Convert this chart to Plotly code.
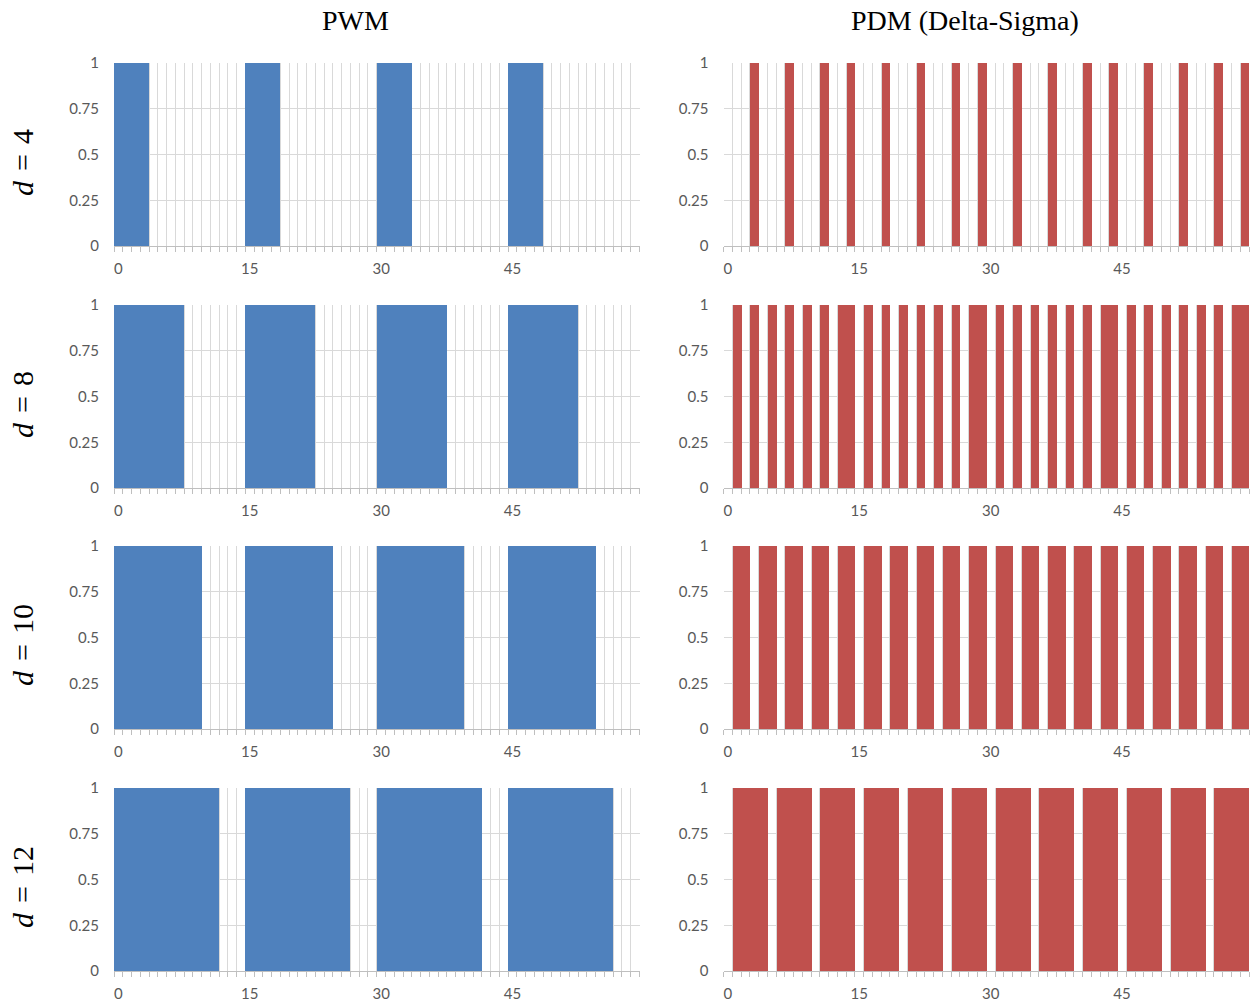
import plotly.graph_objects as go
from plotly.subplots import make_subplots

# Sample index (one bar per time slot)
slots = list(range(60))
x_tick_vals = [0, 15, 30, 45]
x_tick_text = ["0", "15", "30", "45"]
y_tick_vals = [0, 0.25, 0.5, 0.75, 1]
y_tick_text = ["0", "0.25", "0.5", "0.75", "1"]

duty_labels = ["4", "8", "10", "12"]
column_titles = ["PWM", "PDM (Delta-Sigma)"]

# PWM output, period 15 samples
pwm_d4 = [1,1,1,1,0,0,0,0,0,0,0,0,0,0,0,
          1,1,1,1,0,0,0,0,0,0,0,0,0,0,0,
          1,1,1,1,0,0,0,0,0,0,0,0,0,0,0,
          1,1,1,1,0,0,0,0,0,0,0,0,0,0,0]
pwm_d8 = [1,1,1,1,1,1,1,1,0,0,0,0,0,0,0,
          1,1,1,1,1,1,1,1,0,0,0,0,0,0,0,
          1,1,1,1,1,1,1,1,0,0,0,0,0,0,0,
          1,1,1,1,1,1,1,1,0,0,0,0,0,0,0]
pwm_d10 = [1,1,1,1,1,1,1,1,1,1,0,0,0,0,0,
           1,1,1,1,1,1,1,1,1,1,0,0,0,0,0,
           1,1,1,1,1,1,1,1,1,1,0,0,0,0,0,
           1,1,1,1,1,1,1,1,1,1,0,0,0,0,0]
pwm_d12 = [1,1,1,1,1,1,1,1,1,1,1,1,0,0,0,
           1,1,1,1,1,1,1,1,1,1,1,1,0,0,0,
           1,1,1,1,1,1,1,1,1,1,1,1,0,0,0,
           1,1,1,1,1,1,1,1,1,1,1,1,0,0,0]

# Delta-sigma (PDM) output
pdm_d4 = [0,0,0,1,0,0,0,1,0,0,0,1,0,0,1,
          0,0,0,1,0,0,0,1,0,0,0,1,0,0,1,
          0,0,0,1,0,0,0,1,0,0,0,1,0,0,1,
          0,0,0,1,0,0,0,1,0,0,0,1,0,0,1]
pdm_d8 = [0,1,0,1,0,1,0,1,0,1,0,1,0,1,1,
          0,1,0,1,0,1,0,1,0,1,0,1,0,1,1,
          0,1,0,1,0,1,0,1,0,1,0,1,0,1,1,
          0,1,0,1,0,1,0,1,0,1,0,1,0,1,1]
pdm_d10 = [0,1,1,0,1,1,0,1,1,0,1,1,0,1,1,
           0,1,1,0,1,1,0,1,1,0,1,1,0,1,1,
           0,1,1,0,1,1,0,1,1,0,1,1,0,1,1,
           0,1,1,0,1,1,0,1,1,0,1,1,0,1,1]
pdm_d12 = [0,1,1,1,1,0,1,1,1,1,0,1,1,1,1,
           0,1,1,1,1,0,1,1,1,1,0,1,1,1,1,
           0,1,1,1,1,0,1,1,1,1,0,1,1,1,1,
           0,1,1,1,1,0,1,1,1,1,0,1,1,1,1]

pwm_series = [pwm_d4, pwm_d8, pwm_d10, pwm_d12]
pdm_series = [pdm_d4, pdm_d8, pdm_d10, pdm_d12]

PWM_COLOR = "#4F81BD"
PDM_COLOR = "#C0504D"

W, H = 1252, 1007
fig = make_subplots(rows=4, cols=2)

# pixel geometry of the panels
col_x = [(114.0, 639.5), (723.5, 1249.0)]
row_y = [(63, 246), (305, 488), (546, 729), (788, 971)]

for r in range(4):
    for c, (series, color) in enumerate([(pwm_series, PWM_COLOR), (pdm_series, PDM_COLOR)]):
        fig.add_trace(
            go.Bar(x=slots, y=series[r], marker=dict(color=color, line=dict(width=0)),
                   showlegend=False, hoverinfo="x+y"),
            row=r + 1, col=c + 1,
        )
        x0, x1 = col_x[c]
        top, bot = row_y[r]
        fig.update_xaxes(
            domain=[x0 / W, x1 / W],
            range=[-0.5, 59.5],
            tickmode="array", tickvals=x_tick_vals, ticktext=x_tick_text,
            ticks="", showgrid=False, zeroline=False,
            showline=True, linecolor="#BFBFBF", linewidth=1,
            ticklabelstandoff=9,
            tickfont=dict(family="Lato", size=15, color="#595959"),
            minor=dict(tickmode="linear", tick0=-0.5, dtick=1, showgrid=True,
                       gridcolor="#D9D9D9", gridwidth=1, ticks="outside",
                       ticklen=5, tickcolor="#BFBFBF", tickwidth=1),
            fixedrange=True, automargin=False,
            row=r + 1, col=c + 1,
        )
        fig.update_yaxes(
            domain=[1 - bot / H, 1 - top / H],
            range=[0, 1],
            tickmode="array", tickvals=y_tick_vals, ticktext=y_tick_text,
            ticks="", showgrid=True, gridcolor="#D9D9D9", gridwidth=1,
            zeroline=False, showline=False,
            ticklabelstandoff=14,
            tickfont=dict(family="Lato", size=15, color="#595959"),
            fixedrange=True, automargin=False,
            row=r + 1, col=c + 1,
        )

annotations = []
# column headings
for text, xc in zip(column_titles, [355, 965]):
    annotations.append(dict(
        text=text, x=xc / W, y=1 - 20 / H, xref="paper", yref="paper",
        xanchor="center", yanchor="middle", showarrow=False,
        font=dict(family="Liberation Serif", size=28, color="#000000"),
    ))
# row labels
for r, d in enumerate(duty_labels):
    top, bot = row_y[r]
    yc = (top + bot) / 2 + 8
    annotations.append(dict(
        text=f"<i>d</i>\u2004=\u2004{d}", x=22.5 / W, y=1 - yc / H,
        xref="paper", yref="paper", xanchor="center", yanchor="middle",
        textangle=-90, showarrow=False,
        font=dict(family="Liberation Serif", size=30, color="#000000"),
    ))

fig.update_layout(
    width=W, height=H, autosize=False,
    margin=dict(l=0, r=0, t=0, b=0, pad=0, autoexpand=False),
    paper_bgcolor="white", plot_bgcolor="white",
    bargap=0, barmode="overlay",
    annotations=annotations,
)

fig.write_html("out.html")
